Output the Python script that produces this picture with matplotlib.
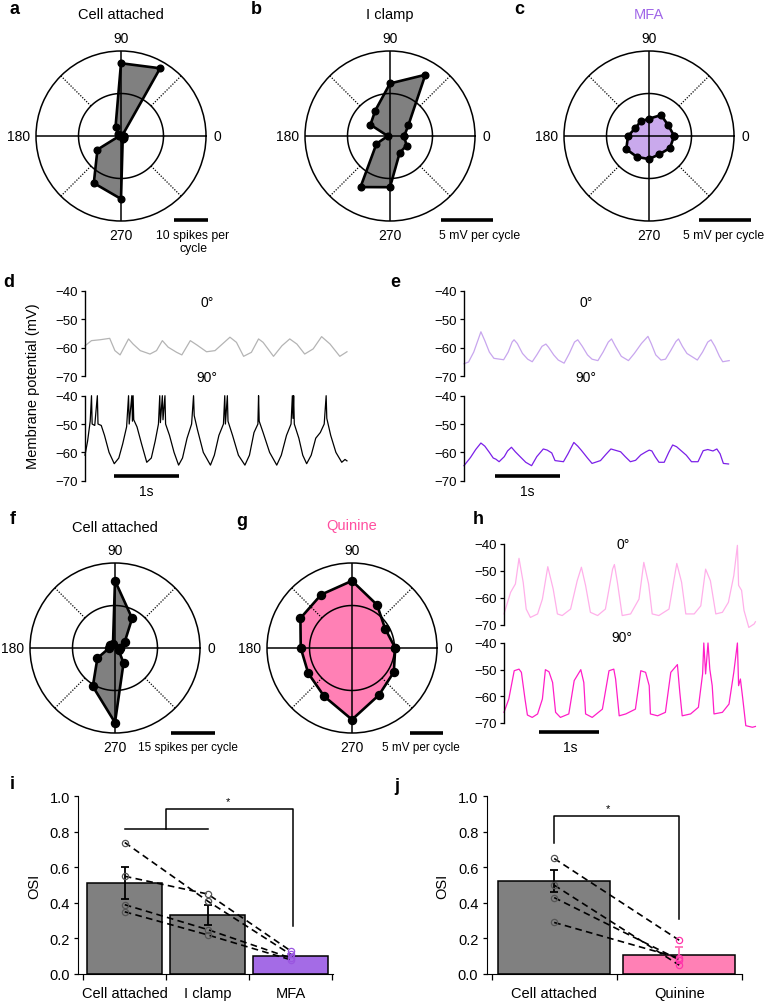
import numpy as np
import matplotlib
matplotlib.use("Agg")
import matplotlib.pyplot as plt
from matplotlib.lines import Line2D

plt.rcParams['font.family'] = ['Liberation Sans', 'DejaVu Sans']

# ---- polar tuning data (12 directions) ----
ANGLES = [0, 30, 60, 90, 120, 150, 180, 210, 240, 270, 300, 330]
A_VALS = [1.0, 0.5, 23.0, 21.4, 3.2, 1.0, 0.5, 8.0, 16.0, 18.5, 1.0, 1.0]        # spikes per cycle
B_VALS = [1.37, 2.04, 6.82, 5.07, 2.84, 2.18, 0.22, 1.51, 5.69, 4.94, 1.87, 1.84]  # mV per cycle
C_VALS = [2.4, 2.1, 2.3, 1.65, 1.6, 1.5, 2.0, 2.5, 2.3, 2.2, 2.0, 2.3]
F_VALS = [1.7, 3.8, 11.8, 23.2, 1.4, 2.1, 2.0, 7.0, 15.3, 25.7, 5.9, 1.4]
G_VALS = [6.46, 5.73, 7.46, 10.04, 9.21, 8.9, 7.66, 7.55, 8.33, 10.7, 8.09, 7.21]
R_A, R_B, R_C, R_F, R_G = 25, 8.2, 8.1, 29.3, 12.7

# ---- membrane potential traces (s, mV) ----
D0_T = [0.00, 0.10, 0.23, 0.38, 0.46, 0.54, 0.67, 0.74, 0.85, 1.00, 1.10, 1.19, 1.28, 1.41, 1.49, 1.62, 1.72, 1.87,
        2.00, 2.23, 2.33, 2.44, 2.56, 2.67, 2.74, 2.90, 3.03, 3.15, 3.26, 3.38, 3.51, 3.64, 3.77, 3.92, 4.03]
D0_V = [-59.3, -57.5, -57.2, -56.7, -61.0, -62.5, -56.9, -58.7, -61.0, -62.2, -61.0, -57.5, -59.8, -61.6, -62.5, -57.5,
        -59.0, -61.4, -61.0, -56.3, -58.1, -63.0, -61.6, -56.9, -58.1, -63.0, -59.3, -56.9, -58.7, -62.2, -60.4, -56.1,
        -58.7, -63.0, -61.4]
D90_T = [0.00, 0.04, 0.08, 0.10, 0.11, 0.15, 0.19, 0.20, 0.25, 0.30,
         0.37, 0.45, 0.52, 0.58, 0.64, 0.67, 0.68, 0.72, 0.73, 0.74,
         0.75, 0.80, 0.87, 0.95, 1.02, 1.08, 1.13, 1.15, 1.16, 1.19,
         1.20, 1.23, 1.24, 1.30, 1.37, 1.44, 1.50, 1.57, 1.64, 1.67,
         1.68, 1.73, 1.82, 1.93, 1.99, 2.06, 2.13, 2.15, 2.16, 2.19,
         2.20, 2.27, 2.36, 2.46, 2.53, 2.60, 2.66, 2.67, 2.68, 2.74,
         2.84, 2.95, 3.02, 3.10, 3.17, 3.19, 3.20, 3.21, 3.22, 3.29,
         3.35, 3.41, 3.48, 3.55, 3.62, 3.68, 3.71, 3.72, 3.78, 3.86,
         3.95, 4.00, 4.03]
D90_V = [-61, -56, -49, -40, -50, -50.5, -40, -50, -50.5, -54,
         -60, -64, -62, -57, -51, -40, -50, -40, -49, -40,
         -48.5, -51, -57, -63.5, -62, -56, -50, -40, -49.5, -40,
         -48.5, -40, -50, -54, -60, -64.5, -62, -55, -50, -40,
         -47, -52, -60, -64.5, -61, -54, -50, -40, -50, -40,
         -49, -54, -61, -64.5, -61, -53, -50, -40, -49, -53,
         -60, -64.5, -61, -54, -50, -40, -48, -40, -50, -55,
         -61, -64, -61, -55, -53, -50, -40, -48, -54, -60,
         -63.5, -62.5, -63]
E0_T = [0.00, 0.07, 0.15, 0.22, 0.26, 0.32, 0.39, 0.46, 0.61, 0.68, 0.74, 0.77, 0.82, 0.90, 0.98, 1.05, 1.12, 1.20,
        1.26, 1.30, 1.38, 1.45, 1.54, 1.62, 1.70, 1.75, 1.82, 1.90, 1.97, 2.06, 2.14, 2.22, 2.27, 2.33, 2.42, 2.53,
        2.62, 2.73, 2.83, 2.88, 2.95, 3.03, 3.10, 3.18, 3.26, 3.30, 3.36, 3.43, 3.50, 3.59, 3.67, 3.75, 3.80, 3.86,
        3.93, 3.98, 4.08]
E0_V = [-65.6, -65.0, -61.5, -57.0, -54.4, -57.5, -61.5, -63.7, -64.2, -61.5, -58.0, -57.2, -58.5, -62.0, -64.0, -64.9,
        -62.5, -59.5, -58.7, -59.8, -62.5, -64.3, -65.4, -62.0, -58.0, -57.2, -59.5, -62.5, -64.0, -64.5, -61.5, -58.0,
        -56.9, -59.5, -63.0, -64.5, -62.0, -58.5, -56.0, -58.5, -62.5, -64.3, -64.0, -61.0, -57.8, -56.9, -59.5, -62.0,
        -63.0, -64.3, -61.5, -58.0, -57.2, -59.5, -63.0, -64.9, -64.5]
E90_T = [0.00, 0.10, 0.18, 0.26, 0.32, 0.39, 0.45, 0.49, 0.54, 0.62, 0.67, 0.73, 0.79, 0.85, 0.95, 1.04, 1.12, 1.22,
         1.28, 1.35, 1.40, 1.53, 1.60, 1.69, 1.75, 1.81, 1.90, 1.97, 2.10, 2.18, 2.26, 2.32, 2.41, 2.48, 2.56, 2.64,
         2.72, 2.80, 2.85, 2.89, 2.94, 3.00, 3.08, 3.15, 3.21, 3.27, 3.34, 3.42, 3.50, 3.60, 3.68, 3.75, 3.83, 3.89,
         3.94, 3.99, 4.07]
E90_V = [-64.7, -61.8, -59.0, -56.7, -57.8, -60.0, -62.0, -62.4, -63.3, -61.5, -59.5, -58.2, -59.8, -61.2, -63.5, -64.7,
         -61.5, -58.8, -59.2, -60.2, -62.9, -63.3, -60.5, -56.5, -57.8, -59.4, -62.0, -63.9, -62.9, -60.8, -58.8, -59.2,
         -59.8, -61.5, -63.3, -62.8, -60.9, -59.8, -59.2, -59.5, -61.5, -63.5, -63.5, -60.0, -57.4, -58.0, -59.4, -61.0,
         -63.3, -63.3, -59.4, -59.0, -59.5, -58.8, -60.5, -63.9, -64.1]
H0_T = [0.00, 0.11, 0.19, 0.25, 0.32, 0.37, 0.44, 0.56, 0.64, 0.73, 0.82, 0.89, 0.97, 1.11, 1.22, 1.29, 1.36, 1.44,
        1.56, 1.69, 1.81, 1.84, 1.89, 1.97, 2.11, 2.25, 2.33, 2.41, 2.47, 2.58, 2.75, 2.88, 2.96, 3.03, 3.17, 3.28,
        3.36, 3.44, 3.53, 3.64, 3.74, 3.83, 3.89, 3.91, 3.96, 4.00, 4.08, 4.17, 4.19]
H0_V = [-65.9, -57.9, -54.8, -45.3, -54.2, -64.1, -67.2, -65.9, -60.4, -48.4, -56.7, -65.9, -66.5, -64.1, -53.6, -48.6,
        -55.4, -65.3, -66.5, -64.1, -49.3, -47.6, -54.2, -66.5, -65.9, -60.4, -46.8, -54.8, -65.9, -66.5, -64.1, -47.2,
        -54.2, -65.9, -65.9, -62.9, -49.3, -53.6, -65.9, -65.3, -61.6, -51.7, -40.5, -55.3, -57.2, -64.6, -70.9, -69.6,
        -68.8]
H90_T = [0.00, 0.08, 0.17, 0.25, 0.29, 0.35, 0.39, 0.47, 0.56, 0.64, 0.69, 0.75, 0.81, 0.86, 0.94, 1.08, 1.17, 1.28,
         1.33, 1.36, 1.47, 1.64, 1.75, 1.83, 1.86, 1.92, 2.03, 2.19, 2.28, 2.36, 2.42, 2.44, 2.56, 2.69, 2.78, 2.89,
         2.93, 2.97, 3.11, 3.24, 3.31, 3.33, 3.36, 3.40, 3.43, 3.47, 3.50, 3.64, 3.75, 3.83, 3.89, 3.91, 3.94, 3.98,
         4.03, 4.14, 4.19]
H90_V = [-66, -61, -50.4, -49.8, -51, -61, -67, -67.9, -66.6, -61, -50, -50.8, -54.8, -66, -67.9, -66.6, -54.1, -50,
         -54.8, -66.6, -67.9, -64.8, -50.4, -49.8, -53.5, -67.3, -66.6, -64.8, -50.4, -51, -56, -66.6, -67.3, -66,
         -51, -48.1, -58.5, -67.3, -66.6, -64.1, -51.6, -40, -51.6, -40, -49.8, -56, -66.6, -66, -62.9, -51, -40,
         -56, -53.5, -61, -71, -71.6, -71.3]

# ---- OSI bar data ----
I_LABELS = ['Cell attached', 'I clamp', 'MFA']
I_MEANS = [0.51, 0.332, 0.10]
I_SEM = [0.09, 0.057, 0.01]
I_CA = [0.74, 0.55, 0.39, 0.35]
I_IC = [0.41, 0.45, 0.25, 0.22]
I_MFA = [0.11, 0.13, 0.09, 0.08]
J_LABELS = ['Cell attached', 'Quinine']
J_MEANS = [0.525, 0.105]
J_SEM = [0.062, 0.045]
J_CA = [0.65, 0.50, 0.43, 0.29]
J_QUI = [0.19, 0.05, 0.08, 0.09]

GRAY = '#808080'
PURPLE = '#a46be6'
PURPLE_LIGHT = '#c9a9ec'
PINK = '#ff80b5'

W, H = 766, 1003
fig = plt.figure(figsize=(W / 100, H / 100), dpi=100)


def px_axes(left, top, width, height, **kw):
    return fig.add_axes([left / W, 1 - (top + height) / H, width / W, height / H], **kw)


def ftext(x, y, s, **kw):
    kw.setdefault('ha', 'center')
    kw.setdefault('va', 'center')
    fig.text(x / W, 1 - y / H, s, **kw)


def hbar(x0, x1, y, lw=2.6):
    fig.add_artist(Line2D([x0 / W, x1 / W], [1 - y / H, 1 - y / H], color='k', lw=lw, solid_capstyle='butt'))


RPX = 85
SB_FS = 8.8  # scale bar text


def polar_panel(cx, cy, vals, rmax, fill, ms):
    ax = px_axes(cx - RPX, cy - RPX, 2 * RPX, 2 * RPX, projection='polar')
    th = np.deg2rad(ANGLES + [ANGLES[0]])
    rv = vals + [vals[0]]
    ax.fill(th, rv, color=fill, lw=0, zorder=1)
    circ = np.linspace(0, 2 * np.pi, 300)
    ax.plot(circ, np.full_like(circ, rmax / 2), color='k', lw=1.1, zorder=2)
    for a in [0, 90, 180, 270]:
        ax.plot([np.deg2rad(a)] * 2, [0, rmax], color='k', lw=1.1, zorder=2)
    for a in [45, 135, 225, 315]:
        ax.plot([np.deg2rad(a)] * 2, [rmax / 2, rmax], color='k', lw=0.9, ls=(0, (1, 1.2)), zorder=2)
    ax.plot(th, rv, color='k', lw=1.9, marker='o', ms=ms, zorder=3, clip_on=False)
    ax.set_ylim(0, rmax)
    ax.grid(False)
    ax.set_xticks([])
    ax.set_yticks([])
    ax.spines['polar'].set_linewidth(1.1)
    ax.patch.set_alpha(0)
    fs = 10
    ax.text(np.pi / 2, rmax * 1.15, '90', ha='center', va='center', fontsize=fs)
    ax.text(0, rmax * 1.13, '0', ha='center', va='center', fontsize=fs)
    ax.text(np.pi, rmax * 1.2, '180', ha='center', va='center', fontsize=fs)
    ax.text(3 * np.pi / 2, rmax * 1.17, '270', ha='center', va='center', fontsize=fs)
    return ax


# top row polar plots
polar_panel(121, 137, A_VALS, R_A, GRAY, 4.8)
polar_panel(390, 137, B_VALS, R_B, GRAY, 4.8)
polar_panel(649, 137, C_VALS, R_C, PURPLE_LIGHT, 4.8)
ftext(121, 15, 'Cell attached', fontsize=10.5)
ftext(390, 15, 'I clamp', fontsize=10.5)
ftext(649, 15, 'MFA', fontsize=10.5, color='#a066e8')
hbar(174, 174 + 10 / R_A * RPX, 221)
ftext(193, 236, '10 spikes per', fontsize=SB_FS)
ftext(193, 249, 'cycle', fontsize=SB_FS)
hbar(441, 441 + 5 / R_B * RPX, 221)
ftext(480, 236, '5 mV per cycle', fontsize=SB_FS)
hbar(699, 699 + 5 / R_C * RPX, 221)
ftext(724, 236, '5 mV per cycle', fontsize=SB_FS)

# middle polar plots
polar_panel(115, 649, F_VALS, R_F, GRAY, 5.8)
polar_panel(352, 649, G_VALS, R_G, PINK, 5.8)
ftext(115, 528, 'Cell attached', fontsize=10.5)
ftext(352, 526, 'Quinine', fontsize=10.5, color='#ff4fa0')
hbar(171, 171 + 15 / R_F * RPX, 734)
ftext(188, 748, '15 spikes per cycle', fontsize=8.5)
hbar(410, 410 + 5 / R_G * RPX, 734)
ftext(421, 748, '5 mV per cycle', fontsize=8.5)


def trace_axes(left, top, width, height, tmax):
    ax = px_axes(left, top, width, height)
    ax.set_xlim(0, tmax)
    ax.set_ylim(-70, -40)
    for s in ['top', 'right', 'bottom']:
        ax.spines[s].set_visible(False)
    ax.spines['left'].set_linewidth(1.0)
    ax.set_xticks([])
    ax.set_yticks([-40, -50, -60, -70])
    ax.tick_params(axis='y', labelsize=9.5, length=3, width=0.9, pad=2)
    ax.patch.set_alpha(0)
    return ax


def trace(ax, t, v, color):
    ax.plot(t, v, color=color, lw=0.9, clip_on=False)


# panel d
S1 = 65.0
ax = trace_axes(85, 291.7, 263, 85.6, 263 / S1)
trace(ax, D0_T, D0_V, '#b4b4b4')
ax.text(1.88, -44, '0°', ha='center', va='center', fontsize=10)
ax.text(1.88, -70.3, '90°', ha='center', va='center', fontsize=10)
ax = trace_axes(85, 396.7, 263, 85, 263 / S1)
trace(ax, D90_T, D90_V, 'k')
ax.plot([0.44, 1.44], [-68.3, -68.3], color='k', lw=2.6, clip_on=False, solid_capstyle='butt')
ax.text(0.94, -73.6, '1s', ha='center', va='center', fontsize=10)

# panel e
ax = trace_axes(464, 291.7, 263, 85.6, 263 / S1)
trace(ax, E0_T, E0_V, '#c8a6ee')
ax.text(1.88, -44, '0°', ha='center', va='center', fontsize=10)
ax.text(1.88, -70.3, '90°', ha='center', va='center', fontsize=10)
ax = trace_axes(464, 396.7, 263, 85, 263 / S1)
trace(ax, E90_T, E90_V, '#7b1fe8')
ax.plot([0.48, 1.48], [-68.3, -68.3], color='k', lw=2.6, clip_on=False, solid_capstyle='butt')
ax.text(0.98, -73.6, '1s', ha='center', va='center', fontsize=10)

ftext(33, 386, 'Membrane potential (mV)', rotation=90, fontsize=10.5)

# panel h
S2 = 60.0
ax = trace_axes(504, 545, 252, 81, 252 / S2)
trace(ax, H0_T, H0_V, '#ffb0ea')
ax.text(1.98, -40, '0°', ha='center', va='center', fontsize=10)
ax.text(1.96, -74.4, '90°', ha='center', va='center', fontsize=10)
ax = trace_axes(504, 644, 252, 80, 252 / S2)
trace(ax, H90_T, H90_V, '#ff1ec8')
ax.plot([0.58, 1.58], [-73.4, -73.4], color='k', lw=2.6, clip_on=False, solid_capstyle='butt')
ax.text(1.11, -79, '1s', ha='center', va='center', fontsize=10)


def bar_axes(left, width, xlim):
    ax = px_axes(left, 797.3, width, 177.7)
    ax.set_xlim(*xlim)
    ax.set_ylim(0, 1)
    for s in ['top', 'right']:
        ax.spines[s].set_visible(False)
    ax.set_yticks(np.arange(0, 1.01, 0.2))
    ax.set_yticklabels(['%.1f' % v for v in np.arange(0, 1.01, 0.2)])
    ax.tick_params(axis='y', labelsize=10.5, length=3, width=0.9, pad=3)
    ax.tick_params(axis='x', which='major', length=0, labelsize=10.5, pad=9)
    ax.tick_params(axis='x', which='minor', length=4, width=0.9)
    ax.set_ylabel('OSI', fontsize=10.5, labelpad=6)
    ax.patch.set_alpha(0)
    return ax


DASH = (0, (4, 2.6))

# panel i
ax = bar_axes(78.3, 254.7, (-0.56, 2.51))
xi = np.arange(len(I_LABELS))
ax.bar(xi, I_MEANS, width=0.9, color=[GRAY, GRAY, PURPLE], edgecolor='k', lw=1.1, zorder=1)
ax.errorbar(xi[:2], I_MEANS[:2], yerr=I_SEM[:2], fmt='none', ecolor='k', elinewidth=1.3, capsize=3, capthick=1.3, zorder=2)
ax.errorbar(xi[2:], I_MEANS[2:], yerr=I_SEM[2:], fmt='none', ecolor=PURPLE, elinewidth=1.3, capsize=3, capthick=1.3, zorder=2)
for a, b, c in zip(I_CA, I_IC, I_MFA):
    ax.plot([0, 1, 2], [a, b, c], color='k', lw=1.2, ls=DASH, zorder=3)
ax.plot([0] * 4, I_CA, 'o', ms=4.5, mfc='none', mec='#555555', mew=0.9, zorder=4)
ax.plot([1] * 4, I_IC, 'o', ms=4.5, mfc='none', mec='#555555', mew=0.9, zorder=4)
ax.plot([2] * 4, I_MFA, 'o', ms=4.5, mfc='none', mec='#9a55e0', mew=0.9, zorder=4)
ax.plot([0, 1], [0.815, 0.815], color='k', lw=1.1)
ax.plot([0.5, 0.5, 2.03, 2.03], [0.815, 0.93, 0.93, 0.27], color='k', lw=1.1)
ax.text(1.24, 0.975, '*', ha='center', va='center', fontsize=8)
ax.set_xticks(xi)
ax.set_xticklabels(I_LABELS)
ax.set_xticks([-0.5, 0.5, 1.5, 2.5], minor=True)

# panel j
ax = bar_axes(486.7, 255, (-0.54, 1.5))
xj = np.arange(len(J_LABELS))
ax.bar(xj, J_MEANS, width=0.9, color=[GRAY, PINK], edgecolor='k', lw=1.1, zorder=1)
ax.errorbar(xj[:1], J_MEANS[:1], yerr=J_SEM[:1], fmt='none', ecolor='k', elinewidth=1.3, capsize=3, capthick=1.3, zorder=2)
ax.errorbar(xj[1:], J_MEANS[1:], yerr=J_SEM[1:], fmt='none', ecolor='#ff6fb8', elinewidth=1.3, capsize=3, capthick=1.3, zorder=2)
for a, b in zip(J_CA, J_QUI):
    ax.plot([0, 1], [a, b], color='k', lw=1.2, ls=DASH, zorder=3)
ax.plot([0] * 4, J_CA, 'o', ms=4.5, mfc='none', mec='#555555', mew=0.9, zorder=4)
ax.plot([1] * 4, J_QUI, 'o', ms=4.5, mfc='none', mec='#ff33aa', mew=0.9, zorder=4)
ax.plot([0, 0, 1, 1], [0.737, 0.888, 0.888, 0.308], color='k', lw=1.1)
ax.text(0.43, 0.935, '*', ha='center', va='center', fontsize=8)
ax.set_xticks(xj)
ax.set_xticklabels(J_LABELS)
ax.set_xticks([-0.5, 0.5, 1.5], minor=True)

# panel letters
for letter, x, y in [('a', 15, 10), ('b', 256, 10), ('c', 519, 10), ('d', 9, 283), ('e', 395, 283),
                     ('f', 13, 520), ('g', 242, 522), ('h', 478, 520), ('i', 12, 785), ('j', 397, 787)]:
    ftext(x, y, letter, fontsize=13, fontweight='bold')

fig.savefig('out.png', dpi=100)
